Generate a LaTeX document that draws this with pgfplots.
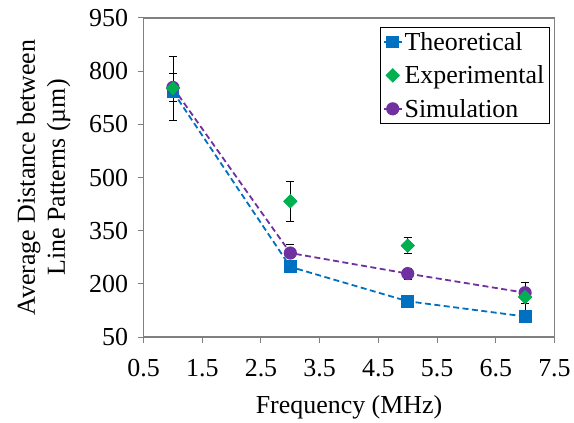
\documentclass[border=0pt]{standalone}
\usepackage{fontspec}
\setmainfont{Liberation Serif}
\newfontfamily\tms{Liberation Serif}
\usepackage{pgfplots}
\pgfplotsset{compat=1.18}
\definecolor{theo}{RGB}{0,112,192}
\definecolor{expc}{RGB}{0,176,80}
\definecolor{simc}{RGB}{112,48,160}
\pgfplotsset{
  lineleg/.style={legend image code/.code={\draw[##1,solid] (0pt,0pt) -- (18pt,0pt); \draw[##1, solid, only marks] plot coordinates {(9pt,0pt)};}},
  markleg/.style={legend image code/.code={\draw[##1] plot coordinates {(9pt,0pt)};}},
}
\begin{document}
\begin{tikzpicture}
\begin{axis}[
  name=ax,
  scale only axis, width=412pt, height=320pt,
  xmin=0.5, xmax=7.5, ymin=50, ymax=950,
  xtick={0.5,1.5,2.5,3.5,4.5,5.5,6.5,7.5},
  xticklabels={0.5,1.5,2.5,3.5,4.5,5.5,6.5,7.5},
  ytick={50,200,350,500,650,800,950},
  yticklabels={50,200,350,500,650,800,950},
  tick label style={font=\tms\fontsize{26}{30}\selectfont},
  xticklabel style={yshift=-13pt},
  yticklabel style={xshift=-6pt},
  label style={font=\tms\fontsize{26}{30}\selectfont},
  xlabel={Frequency (MHz)},
  xlabel style={yshift=-12pt},
  ylabel={Average Distance between\\Line Patterns (µm)},
  ylabel style={align=center, yshift=12pt},
  axis line style={gray, line width=1.2pt},
  tick align=outside, xtick pos=bottom, ytick pos=left,
  major tick length=6pt,
  tick style={gray, line width=1pt},
  legend style={at={(0.988,0.972)}, anchor=north east, draw=black, line width=0.6pt,
    font=\tms\fontsize{26}{30}\selectfont, inner sep=3pt, row sep=10pt},
  legend cell align=left,
  error bars/error bar style={black, line width=0.8pt},
  error bars/error mark options={black, rotate=90, mark size=4pt, line width=0.8pt},
]
\addplot[theo, lineleg, line width=1.8pt, dash pattern=on 6pt off 3.5pt, mark=square*, mark size=5.5pt, mark options={solid, fill=theo}]
  coordinates {(1,742) (3,248) (5,151) (7,108)};
\addlegendentry{Theoretical}
\addplot[only marks, markleg, expc, mark=square*, mark size=4.8pt, mark options={fill=expc, rotate=45},
  error bars/.cd, y dir=both, y explicit]
  coordinates {(1,752) +- (0,90) (3,433) +- (0,57) (5,308) +- (0,22) (7,163) +- (0,42)};
\addlegendentry{Experimental}
\addplot[simc, lineleg, line width=1.8pt, dash pattern=on 6pt off 3.5pt, mark=*, mark size=5.7pt, mark options={solid, fill=simc},
  error bars/.cd, y dir=both, y explicit]
  coordinates {(1,754) +- (0,40) (3,287) +- (0,25) (5,229) +- (0,16) (7,175) +- (0,30)};
\addlegendentry{Simulation}
\addplot[forget plot, only marks, expc, mark=square*, mark size=4.8pt, mark options={fill=expc, rotate=45}]
  coordinates {(1,752) (3,433) (5,308) (7,163)};
\end{axis}
\path (ax.south west) ++(-144pt,-83pt);
\path (ax.north east) ++(18pt,18pt);
\end{tikzpicture}
\end{document}
